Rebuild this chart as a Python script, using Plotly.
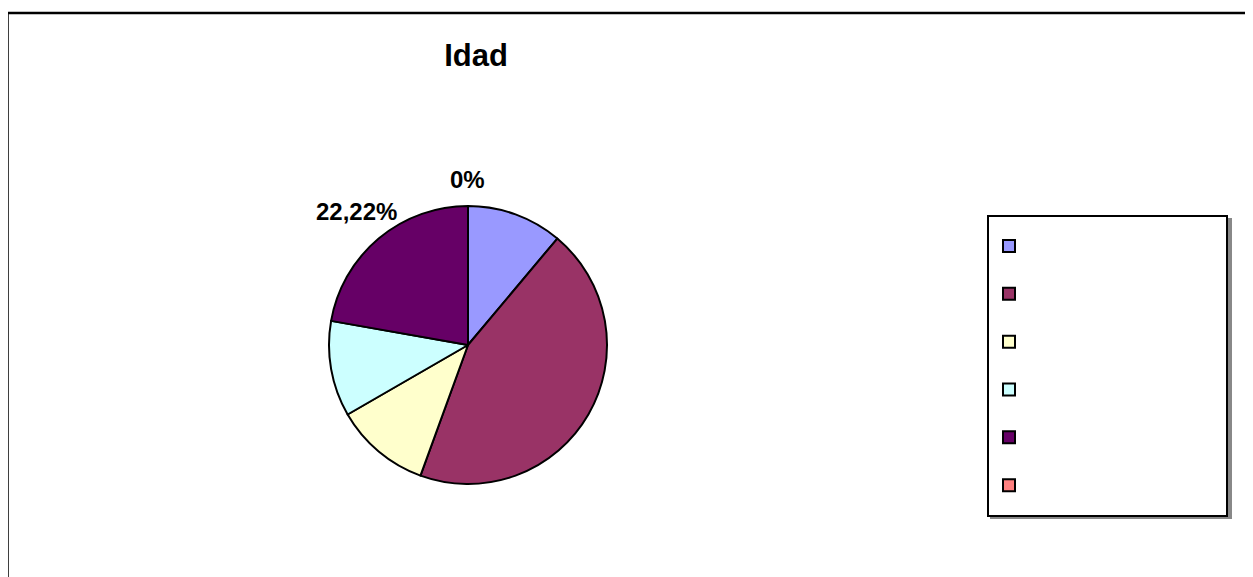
import math
import plotly.graph_objects as go

W, H = 1245, 569   # page has an 8px body margin inside the 1253x577 window
OFF = 8

# Data (1/9, 4/9, 1/9, 1/9, 2/9, 0)
labels = ["\u00a0" * n for n in (15, 16, 17, 18, 19, 20)]
values = [11.11, 44.44, 11.11, 11.11, 22.22, 0.0]
shown_text = ["", "", "", "", "22,22%", "0%"]
colors = ["#9999FF", "#993366", "#FFFFCC", "#CCFFFF", "#660066", "#FF8080"]
title_text = "<b>Idad</b>"


def px(x):
    return (x - OFF) / W


def py(y):
    return 1 - (y - OFF) / H


cx, cy, r = 468, 345, 139

fig = go.Figure()
fig.add_trace(go.Pie(
    labels=labels,
    values=values,
    textinfo="none",
    marker=dict(colors=colors, line=dict(color="black", width=2)),
    sort=False,
    direction="clockwise",
    rotation=0,
    showlegend=True,
    hoverinfo="skip",
    domain=dict(x=[px(cx - r), px(cx + r)], y=[py(cy + r), py(cy - r)]),
))

# data labels placed along each slice's mid-angle (computed from values)
total = sum(values)
cum = 0.0
annotations = []
for v, t in zip(values, shown_text):
    mid = (cum + v / 2) / total * 2 * math.pi
    cum += v
    if not t:
        continue
    dist = r * (1.19 if v == 0 else 1.25)
    ax = cx + dist * math.sin(mid)
    ay = cy - dist * math.cos(mid)
    annotations.append(dict(
        text="<b>%s</b>" % t, xref="paper", yref="paper", x=px(ax), y=py(ay),
        xanchor="center", yanchor="middle", showarrow=False,
        font=dict(family="Liberation Sans, Arial", size=24, color="black")))

fig.update_layout(
    width=W, height=H,
    margin=dict(l=0, r=0, t=0, b=0),
    paper_bgcolor="white",
    title=dict(text=title_text, x=px(476), xanchor="center", y=py(55), yanchor="middle",
               font=dict(family="Liberation Sans, Arial", size=31, color="black")),
    annotations=annotations,
    legend=dict(
        x=px(987), xanchor="left", y=py(215), yanchor="top",
        bgcolor="white", bordercolor="black", borderwidth=2,
        font=dict(family="Liberation Sans, Arial", size=34.5, color="white"),
    ),
    shapes=[
        dict(type="rect", xref="paper", yref="paper", x0=px(7.5), x1=1.02, y0=-0.02, y1=py(13),
             line=dict(color="black", width=2.5), fillcolor="rgba(0,0,0,0)", layer="below"),
        dict(type="rect", xref="paper", yref="paper", x0=px(990), x1=px(1232),
             y0=py(519), y1=py(218),
             line=dict(width=0), fillcolor="#888888", layer="below"),
    ],
)

fig.write_html("out.html")
